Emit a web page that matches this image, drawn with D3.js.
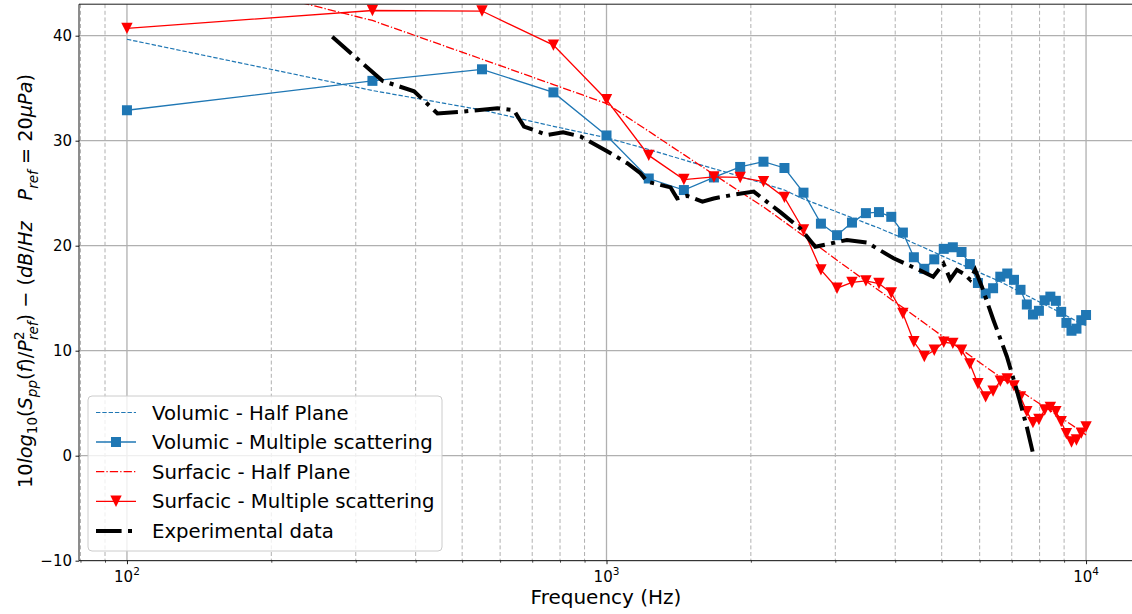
<!DOCTYPE html>
<html><head><meta charset="utf-8">
<script src="https://cdn.jsdelivr.net/npm/d3@7"></script>
<style>body{margin:0;background:#fff}text{font-family:"DejaVu Sans",sans-serif}</style>
</head><body><svg id="c" width="1132" height="614"></svg>
<script>
// ---------------- data ----------------
const freqs = [100,325,550,775,1000,1225,1450,1675,1900,2125,2350,2575,2800,3025,3250,3475,3700,3925,4150,4375,4600,4825,5050,5275,5500,5725,5950,6175,6400,6625,6850,7075,7300,7525,7750,7975,8200,8425,8650,8875,9100,9325,9550,9775,10000];
const volHalf = [39.66,34.78,32.92,31.37,30.28,29.16,28.17,27.33,26.6,25.92,25.3,24.45,23.82,23.21,22.67,22.15,21.68,21.18,20.73,20.24,19.8,19.37,18.96,18.58,18.2,17.86,17.51,17.18,16.88,16.57,16.23,15.9,15.59,15.26,14.96,14.67,14.4,14.11,13.85,13.58,13.32,13.08,12.82,12.58,12.4];
const volMS = [32.9,35.7,36.8,34.6,30.5,26.4,25.3,26.5,27.5,28.0,27.4,25.05,22.1,21.0,22.2,23.1,23.2,22.75,21.25,18.9,17.8,18.7,19.7,19.85,19.4,18.25,16.45,15.45,15.95,17.05,17.35,16.75,15.8,14.4,13.45,13.8,14.8,15.15,14.75,13.7,12.65,11.9,12.1,12.9,13.4];
const surfHalf = [47.3,41.45,37.76,35.35,33.54,30.9,28.67,26.78,25.13,23.69,22.26,20.95,19.75,18.62,17.59,16.63,15.74,14.88,14.11,13.35,12.64,11.94,11.29,10.7,10.11,9.55,9.0,8.47,7.97,7.5,7.02,6.56,6.16,5.75,5.37,4.99,4.64,4.29,3.94,3.59,3.27,2.94,2.63,2.32,1.97];
const surfMS = [40.7,42.4,42.35,39.1,33.9,28.6,26.3,26.55,26.5,26.1,24.6,21.5,17.7,15.95,16.5,16.65,16.4,15.5,13.55,10.85,9.45,10.05,10.8,10.7,10.05,8.75,6.85,5.6,6.15,7.1,7.3,6.65,5.6,4.2,3.15,3.45,4.35,4.6,4.2,3.25,2.1,1.3,1.5,2.15,2.75];
const expFreq = [268,341,397,444,496,592,641,673,752,812,883,1003,1105,1177,1216,1360,1404,1473,1585,1673,1839,2028,2304,2536,2725,3172,3493,3968,4581,4800,5044,5208,5379,5552,5733,5873,6064,6412,6837,7171,7524,7767];
const expVal = [39.9,35.7,34.7,32.6,32.75,33.1,32.9,31.35,30.55,30.8,30.4,29.0,27.85,26.9,26.1,25.55,24.5,24.75,24.2,24.5,24.85,25.15,23.2,21.65,19.9,20.55,20.3,18.8,17.5,17.05,18.3,16.8,17.7,17.35,16.75,17.7,16.1,12.9,9.45,6.25,2.75,0.05];
const yTicks = [-10,0,10,20,30,40];
const xTicks = [100,1000,10000];
const xTickLabels = [["10","2"],["10","3"],["10","4"]];
const legendLabels = ["Volumic - Half Plane","Volumic - Multiple scattering","Surfacic - Half Plane","Surfacic - Multiple scattering","Experimental data"];
const xTitle = "Frequency (Hz)";

// ---------------- layout ----------------
const W=1132,H=614;
const pL=79, pR=1134, pT=4.2, pB=560.7;
const BLUE="#1f77b4", RED="#ff0000";
const x = d3.scaleLog().domain([Math.pow(10,1.9), Math.pow(10,4.1)]).range([pL,pR]);
const y = d3.scaleLinear().domain([-10,43]).range([pB,pT]);
const svg = d3.select('#c');
svg.append('rect').attr('width',W).attr('height',H).attr('fill','#fff');
svg.append('defs').append('clipPath').attr('id','clip').append('rect')
  .attr('x',pL).attr('y',pT).attr('width',pR-pL).attr('height',pB-pT);

// minor ticks
const minorTicks=[];
for(let e=1;e<=4;e++) for(let m=2;m<=9;m++){const v=m*Math.pow(10,e); if(v>=x.domain()[0]&&v<=x.domain()[1]) minorTicks.push(v);}

// grid
const grid = svg.append('g').attr('clip-path','url(#clip)');
grid.selectAll('.mg').data(minorTicks).join('line')
  .attr('x1',d=>x(d)).attr('x2',d=>x(d)).attr('y1',pT).attr('y2',pB)
  .attr('stroke','#b0b0b0').attr('stroke-width',1).attr('stroke-dasharray','4,2.6');
grid.selectAll('.Mg').data(xTicks).join('line')
  .attr('x1',d=>x(d)).attr('x2',d=>x(d)).attr('y1',pT).attr('y2',pB)
  .attr('stroke','#b0b0b0').attr('stroke-width',1.3);
grid.selectAll('.hg').data(yTicks).join('line')
  .attr('x1',pL).attr('x2',pR).attr('y1',d=>y(d)).attr('y2',d=>y(d))
  .attr('stroke','#b0b0b0').attr('stroke-width',1.3);

// series
const plot = svg.append('g').attr('clip-path','url(#clip)');
const line = d3.line().x(d=>x(d[0])).y(d=>y(d[1]));
const zip=(a,b)=>a.map((v,i)=>[v,b[i]]);
plot.append('path').datum(zip(freqs,volHalf)).attr('d',line).attr('fill','none')
  .attr('stroke',BLUE).attr('stroke-width',1.2).attr('stroke-dasharray','4.4,1.9');
plot.append('path').datum(zip(freqs,volMS)).attr('d',line).attr('fill','none')
  .attr('stroke',BLUE).attr('stroke-width',1.3);
plot.selectAll('.sq').data(zip(freqs,volMS)).join('rect')
  .attr('x',d=>x(d[0])-5).attr('y',d=>y(d[1])-5).attr('width',10).attr('height',10).attr('fill',BLUE);
plot.append('path').datum(zip(freqs,surfHalf)).attr('d',line).attr('fill','none')
  .attr('stroke',RED).attr('stroke-width',1.3).attr('stroke-dasharray','8.3,2.1,1.3,2.1');
plot.append('path').datum(zip(freqs,surfMS)).attr('d',line).attr('fill','none')
  .attr('stroke',RED).attr('stroke-width',1.3);
const tri = (cx,cy)=>`M${cx-5.7},${cy-5.7}L${cx+5.7},${cy-5.7}L${cx},${cy+5.7}Z`;
plot.selectAll('.tr').data(zip(freqs,surfMS)).join('path')
  .attr('d',d=>tri(x(d[0]),y(d[1]))).attr('fill',RED);
plot.append('path').datum(zip(expFreq,expVal)).attr('d',line).attr('fill','none')
  .attr('stroke','#000').attr('stroke-width',4).attr('stroke-dasharray','25.6,6.4,4,6.4');

// axes
const yAx = svg.append('g').attr('transform',`translate(${pL},0)`)
  .call(d3.axisLeft(y).tickValues(yTicks).tickSize(3.5).tickPadding(3.5).tickFormat(d=>d<0?'\u2212'+Math.abs(d):String(d)));
yAx.select('.domain').remove();
yAx.selectAll('text').attr('font-size',15).attr('fill','#000').attr('font-family','DejaVu Sans');
yAx.selectAll('line').attr('stroke','#000').attr('stroke-width',0.9);

const xAx = svg.append('g').attr('transform',`translate(0,${pB})`)
  .call(d3.axisBottom(x).tickValues(xTicks).tickSize(3.5).tickFormat(''));
xAx.select('.domain').remove();
xAx.selectAll('line').attr('stroke','#000').attr('stroke-width',0.9);
const xAxm = svg.append('g').attr('transform',`translate(0,${pB})`)
  .call(d3.axisBottom(x).tickValues(minorTicks.filter(v=>x(v)<=W)).tickSize(2).tickFormat(''));
xAxm.select('.domain').remove();
xAxm.selectAll('line').attr('stroke','#000').attr('stroke-width',0.7);

xTicks.forEach((t,i)=>{
  const tx = svg.append('text').attr('x',x(t)).attr('y',581.5).attr('text-anchor','middle').attr('font-size',15);
  tx.append('tspan').text(xTickLabels[i][0]);
  tx.append('tspan').attr('dy',-6.5).attr('font-size',10.5).text(xTickLabels[i][1]);
});

// spines
svg.append('line').attr('x1',pL).attr('x2',pL).attr('y1',pT).attr('y2',pB).attr('stroke','#000').attr('stroke-width',0.9);
svg.append('line').attr('x1',pL).attr('x2',pR).attr('y1',pB).attr('y2',pB).attr('stroke','#000').attr('stroke-width',0.9);
svg.append('line').attr('x1',pL).attr('x2',pR).attr('y1',pT).attr('y2',pT).attr('stroke','#000').attr('stroke-width',0.9);

// x title
svg.append('text').attr('x',606).attr('y',604).attr('text-anchor','middle').attr('font-size',20).text(xTitle);

// y title (math text)
const segs = [
  {t:"10"},{t:"log",i:1},{t:"10",s:5,z:13.5},{t:"("},{t:"S",i:1},{t:"pp",i:1,s:5,z:13.5},
  {t:"("},{t:"f",i:1},{t:")/"},{t:"P",i:1},{t:"2",s:-8,z:13.5},{t:"ref",i:1,s:6,z:13.5,dx:-8.6},
  {t:") \u2212 ("},{t:"dB",i:1},{t:"/"},{t:"Hz",i:1},{t:"P",i:1,dx:21},{t:"ref",i:1,s:6,z:13.5},
  {t:" = 20"},{t:"\u03bcPa",i:1},{t:")"}
];
const yt = svg.append('text').attr('transform','translate(32,281) rotate(-90)')
  .attr('text-anchor','middle').attr('font-size',19.3).style('white-space','pre');
let prev=0;
segs.forEach(s=>{
  const sh = s.s||0;
  const ts = yt.append('tspan').attr('dy',sh-prev).text(s.t);
  if(s.i) ts.attr('font-style','italic');
  if(s.z) ts.attr('font-size',s.z);
  if(s.dx) ts.attr('dx',s.dx);
  prev=sh;
});

// legend
const lg = svg.append('g');
lg.append('rect').attr('x',88).attr('y',396).attr('width',354).attr('height',155).attr('rx',4)
  .attr('fill','#fff').attr('fill-opacity',0.8).attr('stroke','#cccccc').attr('stroke-width',1);
const ly = [412.5,442,471.7,501.3,531];
const lstyles = [
  {c:BLUE,w:1.2,d:'4.4,1.9'},{c:BLUE,w:1.3,d:null,m:'sq'},{c:RED,w:1.3,d:'8.3,2.1,1.3,2.1'},
  {c:RED,w:1.3,d:null,m:'tri'},{c:'#000',w:4,d:'25.6,6.4,4,6.4'}];
legendLabels.forEach((lab,i)=>{
  const s=lstyles[i];
  const l=lg.append('line').attr('x1',96).attr('x2',136).attr('y1',ly[i]).attr('y2',ly[i])
    .attr('stroke',s.c).attr('stroke-width',s.w);
  if(s.d) l.attr('stroke-dasharray',s.d);
  if(s.m==='sq') lg.append('rect').attr('x',111).attr('y',ly[i]-5).attr('width',10).attr('height',10).attr('fill',s.c);
  if(s.m==='tri') lg.append('path').attr('d',tri(116,ly[i])).attr('fill',s.c);
  lg.append('text').attr('x',152).attr('y',ly[i]).attr('dy','0.36em').attr('font-size',19.7).attr('fill','#000').text(lab);
});
</script></body></html>
